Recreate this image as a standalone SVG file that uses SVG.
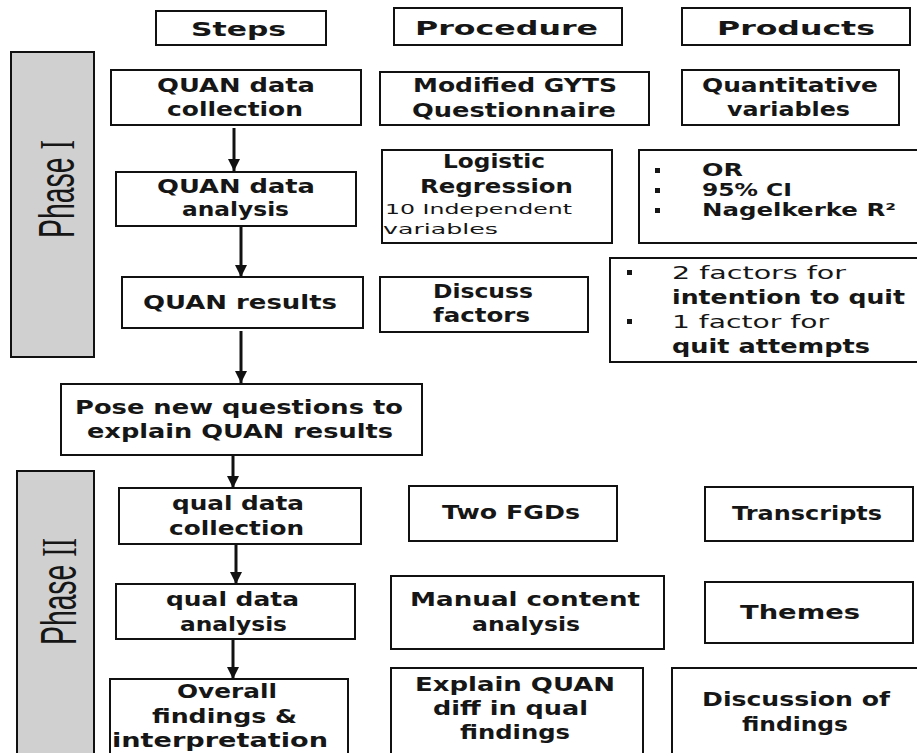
<svg xmlns="http://www.w3.org/2000/svg" width="917" height="753" viewBox="0 0 917 753">
<style>
.box{fill:#fff;stroke:#111;stroke-width:2}
.phase{fill:#d0d0d0;stroke:#111;stroke-width:2}
.b{font-family:"DejaVu Sans",sans-serif;font-weight:bold;font-size:19px;fill:#161616}
.bs{font-family:"DejaVu Sans",sans-serif;font-weight:bold;font-size:17px;fill:#161616}
.r{font-family:"DejaVu Sans",sans-serif;font-weight:normal;font-size:18px;fill:#161616}
.s{font-family:"DejaVu Sans",sans-serif;font-weight:normal;font-size:14px;fill:#161616}
.p{font-family:"Liberation Sans",sans-serif;font-size:50px;fill:#161616}
.dot{fill:#161616}
.conn{stroke:#111;stroke-width:3;fill:none}
</style>
<defs>
<marker id="ah" markerUnits="userSpaceOnUse" markerWidth="14" markerHeight="12" refX="12" refY="6" orient="auto">
<path d="M0,0 L12,6 L0,12 Z" fill="#111"/>
</marker>
</defs>
<rect width="917" height="753" fill="#fff"/>

<g id="phase1">
<rect class="phase" x="11" y="52" width="83" height="305"/>
<text class="p" transform="translate(74,238) rotate(-90)" textLength="98" lengthAdjust="spacingAndGlyphs">Phase <tspan font-family="Liberation Serif">I</tspan></text>
</g>
<g id="phase2">
<rect class="phase" x="17" y="471" width="77" height="300"/>
<text class="p" transform="translate(76,645) rotate(-90)" textLength="107" lengthAdjust="spacingAndGlyphs">Phase <tspan font-family="Liberation Serif">II</tspan></text>
</g>

<g id="h-steps">
<rect class="box" x="156" y="11" width="170" height="34"/>
<text class="b" x="191" y="36" textLength="95" lengthAdjust="spacingAndGlyphs">Steps</text>
</g>
<g id="h-procedure">
<rect class="box" x="394" y="8" width="228" height="37"/>
<text class="b" x="415" y="35" textLength="183" lengthAdjust="spacingAndGlyphs">Procedure</text>
</g>
<g id="h-products">
<rect class="box" x="682" y="8" width="228" height="37"/>
<text class="b" x="717" y="35" textLength="158" lengthAdjust="spacingAndGlyphs">Products</text>
</g>

<g id="s1">
<rect class="box" x="111" y="70" width="250" height="55"/>
<text class="b" x="157" y="92" textLength="158" lengthAdjust="spacingAndGlyphs">QUAN data</text>
<text class="b" x="167" y="116" textLength="136" lengthAdjust="spacingAndGlyphs">collection</text>
</g>
<g id="s2">
<rect class="box" x="116" y="172" width="240" height="54"/>
<text class="b" x="157" y="193" textLength="158" lengthAdjust="spacingAndGlyphs">QUAN data</text>
<text class="b" x="182" y="216" textLength="107" lengthAdjust="spacingAndGlyphs">analysis</text>
</g>
<g id="s3">
<rect class="box" x="122" y="277" width="241" height="51"/>
<text class="b" x="143" y="309" textLength="194" lengthAdjust="spacingAndGlyphs">QUAN results</text>
</g>
<g id="s4">
<rect class="box" x="61" y="384" width="361" height="71"/>
<text class="b" x="75" y="414" textLength="328" lengthAdjust="spacingAndGlyphs">Pose new questions to</text>
<text class="b" x="87" y="438" textLength="306" lengthAdjust="spacingAndGlyphs">explain QUAN results</text>
</g>
<g id="s5">
<rect class="box" x="119" y="488" width="242" height="56"/>
<text class="b" x="172" y="510" textLength="132" lengthAdjust="spacingAndGlyphs">qual data</text>
<text class="b" x="169" y="535" textLength="135" lengthAdjust="spacingAndGlyphs">collection</text>
</g>
<g id="s6">
<rect class="box" x="116" y="584" width="239" height="55"/>
<text class="b" x="166" y="606" textLength="133" lengthAdjust="spacingAndGlyphs">qual data</text>
<text class="b" x="180" y="631" textLength="107" lengthAdjust="spacingAndGlyphs">analysis</text>
</g>
<g id="s7">
<rect class="box" x="110" y="679" width="238" height="90"/>
<text class="b" x="177" y="698" textLength="100" lengthAdjust="spacingAndGlyphs">Overall</text>
<text class="b" x="152" y="723" textLength="145" lengthAdjust="spacingAndGlyphs">findings &amp;</text>
<text class="b" x="112" y="747" textLength="216" lengthAdjust="spacingAndGlyphs">interpretation</text>
</g>

<g id="p1">
<rect class="box" x="380" y="72" width="269" height="53"/>
<text class="b" x="413" y="92" textLength="204" lengthAdjust="spacingAndGlyphs">Modified GYTS</text>
<text class="b" x="412" y="117" textLength="204" lengthAdjust="spacingAndGlyphs">Questionnaire</text>
</g>
<g id="p2">
<rect class="box" x="382" y="150" width="230" height="93"/>
<text class="b" x="443" y="168" textLength="102" lengthAdjust="spacingAndGlyphs">Logistic</text>
<text class="b" x="420" y="193" textLength="153" lengthAdjust="spacingAndGlyphs">Regression</text>
<text class="s" x="385" y="214" textLength="187" lengthAdjust="spacingAndGlyphs">10 Independent</text>
<text class="s" x="383" y="234" textLength="115" lengthAdjust="spacingAndGlyphs">variables</text>
</g>
<g id="p3">
<rect class="box" x="380" y="277" width="208" height="55"/>
<text class="b" x="433" y="298" textLength="100" lengthAdjust="spacingAndGlyphs">Discuss</text>
<text class="b" x="433" y="322" textLength="97" lengthAdjust="spacingAndGlyphs">factors</text>
</g>
<g id="p4">
<rect class="box" x="409" y="486" width="208" height="55"/>
<text class="b" x="442" y="519" textLength="138" lengthAdjust="spacingAndGlyphs">Two FGDs</text>
</g>
<g id="p5">
<rect class="box" x="391" y="576" width="273" height="73"/>
<text class="b" x="410" y="606" textLength="230" lengthAdjust="spacingAndGlyphs">Manual content</text>
<text class="b" x="472" y="631" textLength="108" lengthAdjust="spacingAndGlyphs">analysis</text>
</g>
<g id="p6">
<rect class="box" x="391" y="668" width="252" height="100"/>
<text class="b" x="415" y="691" textLength="200" lengthAdjust="spacingAndGlyphs">Explain QUAN</text>
<text class="b" x="433" y="715" textLength="155" lengthAdjust="spacingAndGlyphs">diff in qual</text>
<text class="b" x="460" y="739" textLength="110" lengthAdjust="spacingAndGlyphs">findings</text>
</g>

<g id="r1">
<rect class="box" x="682" y="70" width="217" height="55"/>
<text class="b" x="702" y="92" textLength="176" lengthAdjust="spacingAndGlyphs">Quantitative</text>
<text class="b" x="727" y="116" textLength="123" lengthAdjust="spacingAndGlyphs">variables</text>
</g>
<g id="r2">
<rect class="box" x="639" y="150" width="290" height="93"/>
<rect class="dot" x="655" y="168" width="5" height="5"/>
<rect class="dot" x="655" y="188" width="5" height="5"/>
<rect class="dot" x="655" y="208" width="5" height="5"/>
<text class="bs" x="702" y="176" textLength="41" lengthAdjust="spacingAndGlyphs">OR</text>
<text class="bs" x="702" y="196" textLength="90" lengthAdjust="spacingAndGlyphs">95% CI</text>
<text class="bs" x="702" y="216" textLength="194" lengthAdjust="spacingAndGlyphs">Nagelkerke R²</text>
</g>
<g id="r3">
<rect class="box" x="610" y="258" width="320" height="104"/>
<rect class="dot" x="627" y="270" width="5" height="5"/>
<rect class="dot" x="627" y="319" width="5" height="5"/>
<text class="r" x="672" y="279" textLength="174" lengthAdjust="spacingAndGlyphs">2 factors for</text>
<text class="b" x="672" y="304" textLength="233" lengthAdjust="spacingAndGlyphs">intention to quit</text>
<text class="r" x="672" y="328" textLength="157" lengthAdjust="spacingAndGlyphs">1 factor for</text>
<text class="b" x="672" y="353" textLength="198" lengthAdjust="spacingAndGlyphs">quit attempts</text>
</g>
<g id="r4">
<rect class="box" x="705" y="487" width="208" height="54"/>
<text class="b" x="732" y="520" textLength="150" lengthAdjust="spacingAndGlyphs">Transcripts</text>
</g>
<g id="r5">
<rect class="box" x="705" y="582" width="208" height="61"/>
<text class="b" x="740" y="619" textLength="120" lengthAdjust="spacingAndGlyphs">Themes</text>
</g>
<g id="r6">
<rect class="box" x="672" y="668" width="260" height="100"/>
<text class="b" x="702" y="706" textLength="188" lengthAdjust="spacingAndGlyphs">Discussion  of</text>
<text class="b" x="742" y="731" textLength="106" lengthAdjust="spacingAndGlyphs">findings</text>
</g>

<g id="connectors">
<line class="conn" x1="234" y1="128" x2="234" y2="171" marker-end="url(#ah)"/>
<line class="conn" x1="241" y1="227" x2="241" y2="277" marker-end="url(#ah)"/>
<line class="conn" x1="241" y1="331" x2="241" y2="383" marker-end="url(#ah)"/>
<line class="conn" x1="233" y1="456" x2="233" y2="488" marker-end="url(#ah)"/>
<line class="conn" x1="236" y1="545" x2="236" y2="584" marker-end="url(#ah)"/>
<line class="conn" x1="233" y1="640" x2="233" y2="679" marker-end="url(#ah)"/>
</g>
</svg>
